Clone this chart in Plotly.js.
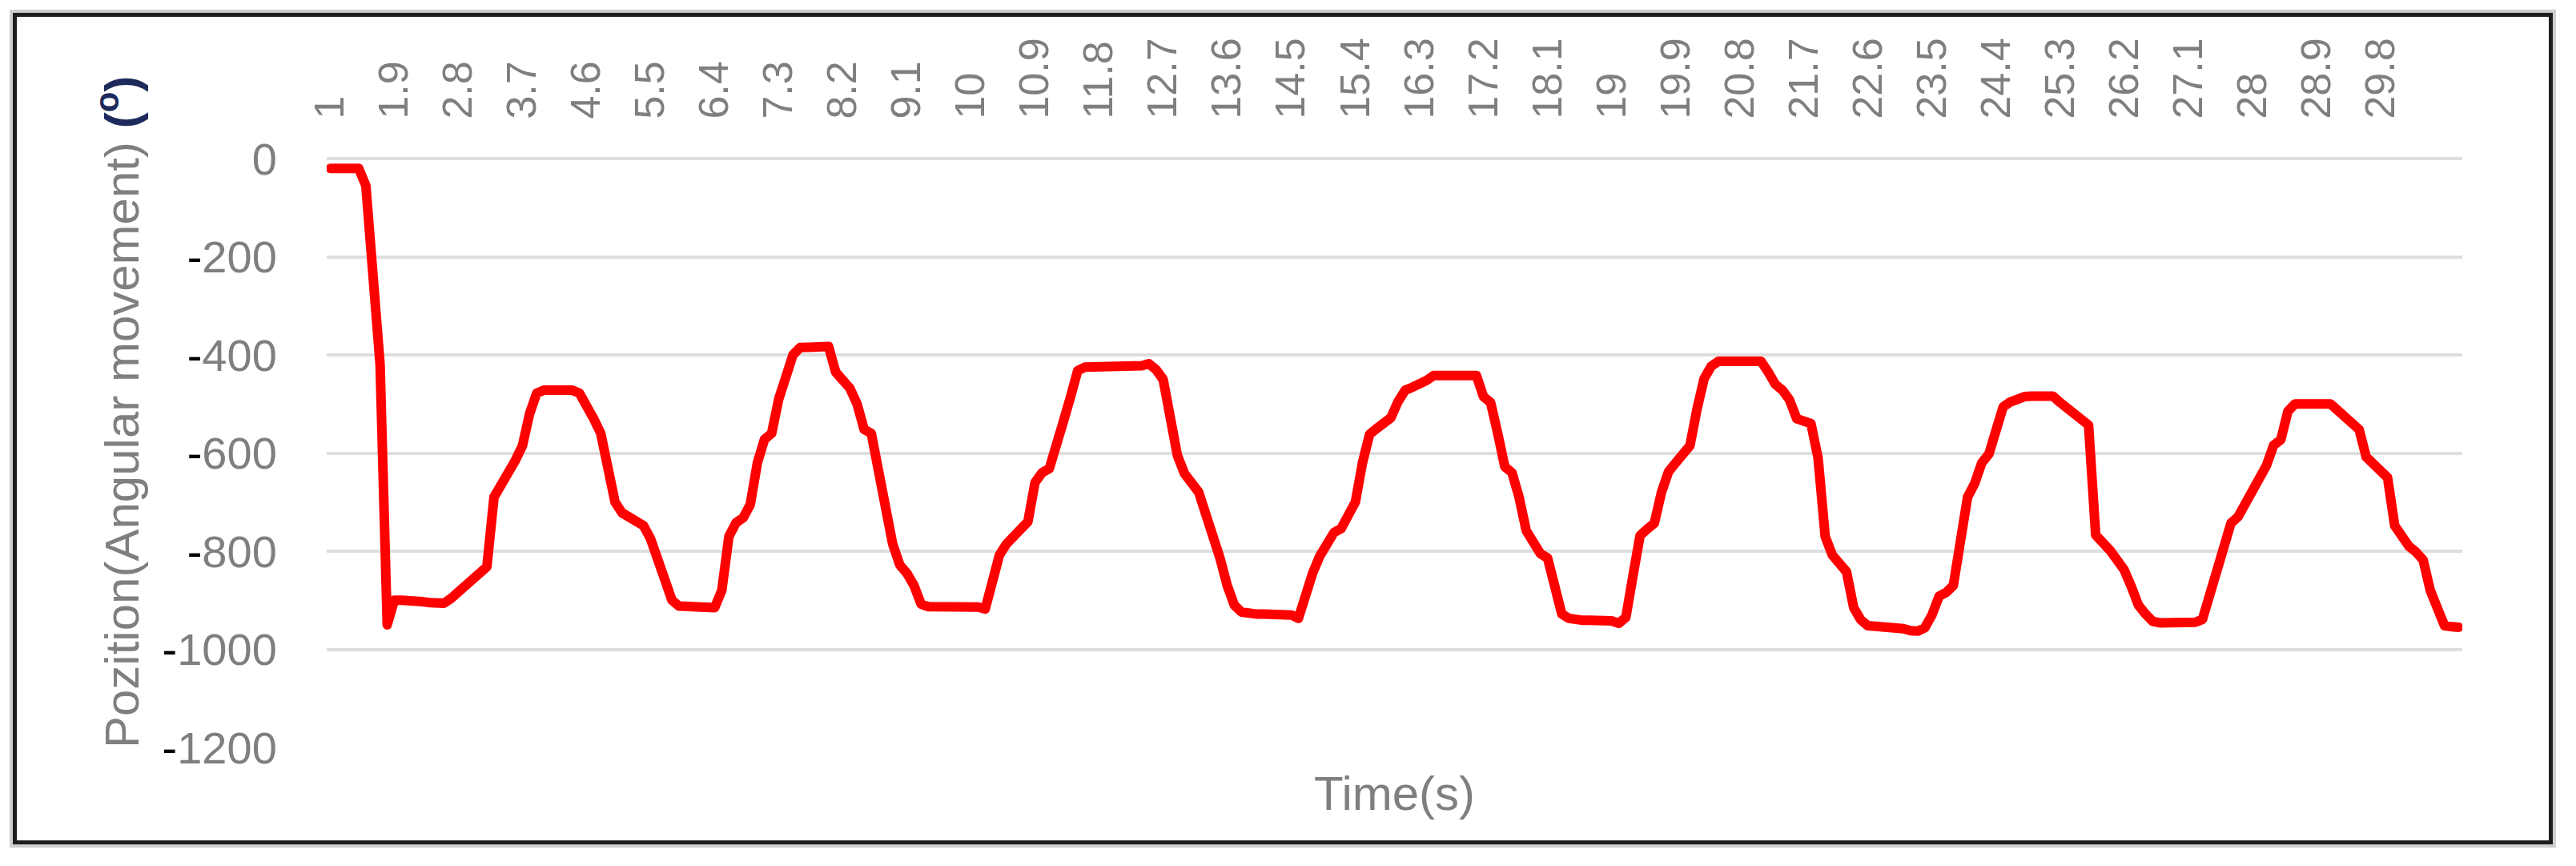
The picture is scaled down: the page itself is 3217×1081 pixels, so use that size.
<!DOCTYPE html>
<html>
<head>
<meta charset="utf-8">
<script src="https://cdn.plot.ly/plotly-3.0.1.min.js"></script>
<style>
  html, body { margin: 0; padding: 0; background: #ffffff; }
  #wrap { position: relative; width: 3217px; height: 1081px; overflow: hidden; background: #ffffff; }
  #chart { position: absolute; left: 0; top: 0; width: 3217px; height: 1081px; }
  #chart .js-line { stroke-linejoin: round; stroke-linecap: round; }
  #frame { position: absolute; left: 16px; top: 16px; width: 3172px; height: 1038px;
           box-sizing: border-box; border: 5px solid #1e1e1e; box-shadow: 0 0 0 4px #cfcfcf;
           pointer-events: none; }
</style>
</head>
<body>
<div id="wrap">
  <div id="chart"></div>
  <div id="frame"></div>
</div>
<script>
// Time axis: 1.0 s to 30.9 s in 0.1 s steps (category labels as shown by the chart)
const timeStart = 1.0;
const timeStep = 0.1;
const timeCount = 300;

// Angular position (degrees), one value per 0.1 s
const position = [
  -20,-20,-20,-20,-20,-55,-230,-420,-950,-900,
  -900,-900,-902,-903,-905,-907,-906,-896,-884,-871,
  -858,-845,-832,-690,-668,-640,-615,-585,-520,-478,
  -472,-472,-472,-472,-472,-478,-500,-530,-560,-630,
  -700,-722,-730,-738,-748,-775,-820,-860,-900,-912,
  -912,-912,-912,-912,-915,-880,-770,-742,-732,-705,
  -620,-572,-560,-490,-440,-400,-385,-385,-385,-385,
  -383,-435,-455,-468,-500,-552,-560,-640,-722,-785,
  -828,-845,-870,-908,-913,-913,-913,-913,-913,-913,
  -913,-914,-918,-860,-808,-785,-770,-755,-740,-660,
  -640,-632,-590,-535,-485,-432,-425,-425,-425,-425,
  -425,-425,-424,-423,-422,-418,-430,-450,-540,-605,
  -642,-658,-680,-725,-765,-815,-870,-910,-924,-928,
  -928,-928,-928,-928,-929,-930,-937,-885,-845,-810,
  -785,-762,-754,-725,-700,-620,-562,-550,-540,-528,
  -495,-472,-466,-460,-452,-442,-442,-442,-442,-442,
  -442,-442,-485,-497,-560,-628,-640,-690,-758,-785,
  -805,-814,-870,-928,-937,-940,-941,-941,-941,-942,
  -942,-947,-935,-850,-768,-755,-743,-680,-638,-620,
  -605,-585,-510,-448,-423,-413,-413,-413,-413,-413,
  -413,-413,-435,-460,-472,-492,-530,-535,-540,-610,
  -770,-808,-828,-842,-915,-940,-952,-953,-954,-954,
  -955,-958,-962,-963,-956,-930,-892,-884,-870,-770,
  -690,-662,-620,-602,-555,-506,-496,-490,-485,-484,
  -484,-484,-484,-497,-508,-516,-528,-543,-767,-780,
  -798,-818,-838,-872,-910,-928,-943,-946,-946,-947,
  -947,-948,-945,-939,-893,-848,-795,-743,-730,-705,
  -676,-655,-625,-584,-573,-515,-500,-500,-500,-500,
  -500,-500,-513,-528,-540,-552,-608,-620,-632,-650,
  -748,-772,-790,-802,-818,-880,-915,-952,-954,-955
];

// Tick labels shown on the time axis
const timeTickLabels = ["1","1.9","2.8","3.7","4.6","5.5","6.4","7.3","8.2","9.1","10",
  "10.9","11.8","12.7","13.6","14.5","15.4","16.3","17.2","18.1","19","19.9","20.8",
  "21.7","22.6","23.5","24.4","25.3","26.2","27.1","28","28.9","29.8"];

// Value axis ticks
const positionTicks = [0, -200, -400, -600, -800, -1000, -1200];

const fmt = v => { const s = (Math.round(v * 10) / 10).toFixed(1); return s.endsWith(".0") ? s.slice(0, -2) : s; };
const times = [];
for (let i = 0; i < timeCount; i++) times.push(fmt(timeStart + i * timeStep));

const yTickText = positionTicks.map(v => v < 0
  ? "<span style='color:#000000'>-</span>" + String(-v)
  : String(v));

const grey = "#7f7f7f";
const fontFam = "'Liberation Sans', Arial, sans-serif";

const trace = {
  type: "scatter",
  mode: "lines",
  x: times,
  y: position,
  line: { color: "#ff0000", width: 12 },
  hoverinfo: "x+y"
};

const layout = {
  width: 3217,
  height: 1081,
  margin: { l: 408, r: 142, t: 198, b: 148, pad: 0 },
  paper_bgcolor: "#ffffff",
  plot_bgcolor: "#ffffff",
  showlegend: false,
  font: { family: fontFam, color: grey },
  xaxis: {
    type: "category",
    categoryorder: "array",
    categoryarray: times,
    range: [-0.5, timeCount - 0.5],
    side: "top",
    tickmode: "array",
    tickvals: timeTickLabels,
    ticktext: timeTickLabels,
    tickangle: -90,
    tickfont: { size: 52, color: grey, family: fontFam },
    ticks: "outside",
    ticklen: 38,
    tickcolor: "rgba(0,0,0,0)",
    showgrid: false,
    zeroline: false,
    showline: false,
    fixedrange: true
  },
  yaxis: {
    range: [-1200, 0],
    tickmode: "array",
    tickvals: positionTicks,
    ticktext: yTickText,
    tickfont: { size: 56, color: grey, family: fontFam },
    ticks: "outside",
    ticklen: 50,
    tickcolor: "rgba(0,0,0,0)",
    showgrid: true,
    gridcolor: "#dedede",
    gridwidth: 4,
    zeroline: true,
    zerolinecolor: "#dedede",
    zerolinewidth: 4,
    showline: false,
    fixedrange: true
  },
  annotations: [
    {
      text: "Pozition(Angular movement) <b><span style='color:#1f2a5c'>(<sup>o</sup>)</span></b>",
      xref: "paper", yref: "paper",
      x: -0.0975, y: 0.57,
      xanchor: "center", yanchor: "middle",
      textangle: -90,
      showarrow: false,
      font: { size: 60, color: grey, family: fontFam }
    },
    {
      text: "Time(s)",
      xref: "paper", yref: "paper",
      x: 0.5, y: -0.078,
      xanchor: "center", yanchor: "middle",
      showarrow: false,
      font: { size: 60, color: grey, family: fontFam }
    }
  ]
};

Plotly.newPlot("chart", [trace], layout, { displayModeBar: false, staticPlot: true });
</script>
</body>
</html>
